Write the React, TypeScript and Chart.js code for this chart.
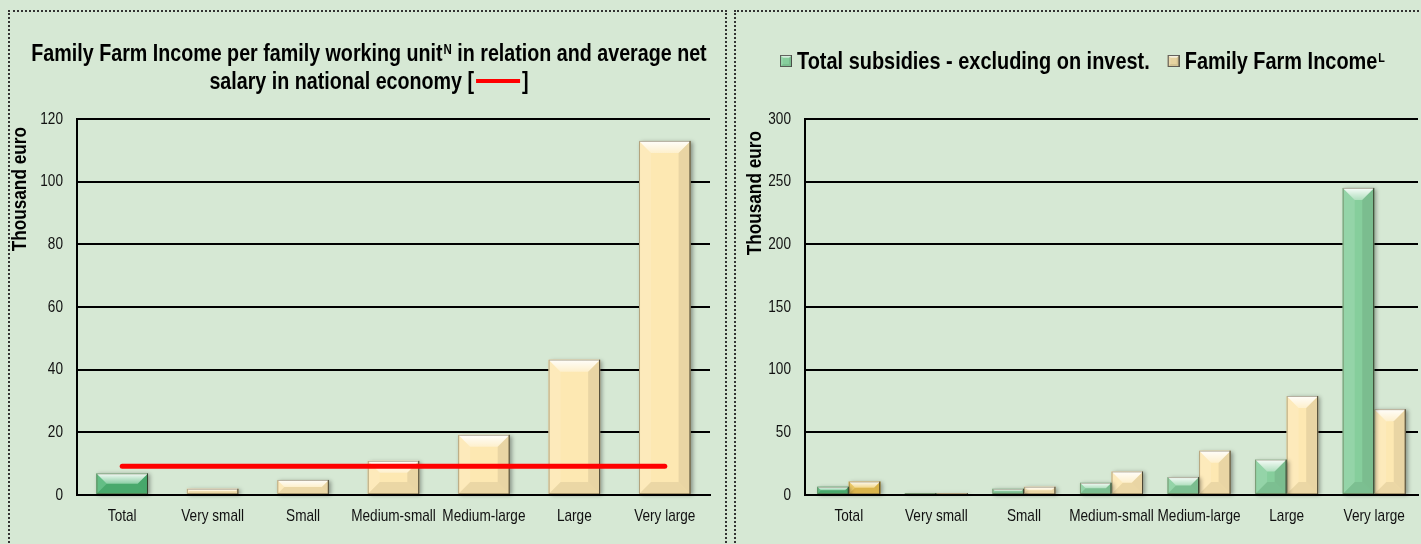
import React, { useEffect, useRef } from "react";
import { Chart, registerables } from "chart.js";

Chart.register(...registerables);

// ---------------- data ----------------
const categories = ["Total", "Very small", "Small", "Medium-small", "Medium-large", "Large", "Very large"];
const ffiPerFwu = [6.9, 2.0, 4.8, 10.9, 19.2, 43.2, 113.0];
const avgNetSalary = [9.2, 9.2, 9.2, 9.2, 9.2, 9.2, 9.2];
const totalSubsidies = [6.6, 1.6, 5.0, 9.8, 14.3, 28.3, 245];
const familyFarmIncome = [10.8, 1.5, 6.6, 18.8, 35.4, 79, 68.5];
const leftYTicks = [0, 20, 40, 60, 80, 100, 120];
const rightYTicks = [0, 50, 100, 150, 200, 250, 300];
const legendLabels = ["Total subsidies - excluding on invest.", "Family Farm Income"];
const legendSup = ["", "L"];
const axisTitle = "Thousand euro";

// ---------------- styles ----------------
const FONT = "'Liberation Sans', Arial, sans-serif";
const BG = "#d6e8d4";
const BEIGE = "#fde8b2";
const LIGHT_GREEN = "#86ce9c";
const TOTAL_GREEN = "#4eb675";
const TOTAL_GOLD = "#ebc352";

function textW(ctx: CanvasRenderingContext2D, t: string, sx: number) {
  return ctx.measureText(t).width * sx;
}

function drawText(
  ctx: CanvasRenderingContext2D,
  t: string,
  x: number,
  y: number,
  align: CanvasTextAlign,
  baseline: CanvasTextBaseline,
  sx: number
) {
  ctx.save();
  ctx.translate(x, y);
  ctx.scale(sx, 1);
  ctx.textAlign = align;
  ctx.textBaseline = baseline;
  ctx.fillText(t, 0, 0);
  ctx.restore();
}

function drawBevelRect(ctx: CanvasRenderingContext2D, l: number, t: number, r: number, b: number) {
  const w = r - l;
  const h = b - t;
  if (w <= 0 || h <= 0) return;
  const s = Math.max(0, Math.min(12, h / 2, w / 2 - 3));
  ctx.save();
  const g = ctx.createLinearGradient(0, t, 0, t + s);
  g.addColorStop(0, "rgba(255,255,255,0.95)");
  g.addColorStop(1, "rgba(255,255,255,0.35)");
  ctx.fillStyle = g;
  ctx.beginPath();
  ctx.moveTo(l, t);
  ctx.lineTo(r, t);
  ctx.lineTo(r - s, t + s);
  ctx.lineTo(l + s, t + s);
  ctx.closePath();
  ctx.fill();
  ctx.fillStyle = "rgba(255,255,255,0.12)";
  ctx.beginPath();
  ctx.moveTo(l, t);
  ctx.lineTo(l + s, t + s);
  ctx.lineTo(l + s, b - s);
  ctx.lineTo(l, b);
  ctx.closePath();
  ctx.fill();
  ctx.fillStyle = "rgba(0,0,0,0.08)";
  ctx.beginPath();
  ctx.moveTo(r, t);
  ctx.lineTo(r - s, t + s);
  ctx.lineTo(r - s, b - s);
  ctx.lineTo(r, b);
  ctx.closePath();
  ctx.fill();
  ctx.fillStyle = "rgba(0,0,0,0.07)";
  ctx.beginPath();
  ctx.moveTo(l, b);
  ctx.lineTo(l + s, b - s);
  ctx.lineTo(r - s, b - s);
  ctx.lineTo(r, b);
  ctx.closePath();
  ctx.fill();
  ctx.strokeStyle = "rgba(90,80,50,0.45)";
  ctx.lineWidth = 1;
  ctx.strokeRect(l + 0.5, t + 0.5, w - 1, h - 1);
  ctx.strokeStyle = "rgba(40,40,30,0.75)";
  ctx.beginPath();
  ctx.moveTo(r - 0.5, t);
  ctx.lineTo(r - 0.5, b);
  ctx.stroke();
  ctx.restore();
}

const bevelPlugin = {
  id: "bevel",
  beforeDatasetDraw(chart: any, args: any) {
    const meta = args.meta;
    if (meta.type !== "bar") return;
    const ctx = chart.ctx as CanvasRenderingContext2D;
    ctx.save();
    meta.data.forEach((el: any) => {
      const { x, y, base, width } = el.getProps(["x", "y", "base", "width"], true);
      ctx.shadowColor = "rgba(0,0,0,0.35)";
      ctx.shadowBlur = 4;
      ctx.shadowOffsetX = 2;
      ctx.shadowOffsetY = 1;
      ctx.fillStyle = el.options.backgroundColor;
      ctx.fillRect(x - width / 2, y, width, base - y);
    });
    ctx.restore();
  },
  afterDatasetDraw(chart: any, args: any) {
    const meta = args.meta;
    if (meta.type !== "bar") return;
    const ctx = chart.ctx as CanvasRenderingContext2D;
    meta.data.forEach((el: any) => {
      const { x, y, base, width } = el.getProps(["x", "y", "base", "width"], true);
      drawBevelRect(ctx, x - width / 2, y, x + width / 2, base);
    });
  },
};

// tick labels and axis title, drawn condensed from the chart's own scales
const axisTextPlugin = {
  id: "axisText",
  afterDraw(chart: any, _args: any, opts: any) {
    const ctx = chart.ctx as CanvasRenderingContext2D;
    const xs = chart.scales.x;
    const ys = chart.scales.y;
    const sx = 0.8;
    ctx.save();
    ctx.fillStyle = "#111";
    ctx.font = `17px ${FONT}`;
    ys.ticks.forEach((t: any) => {
      drawText(ctx, String(t.value), ys.right - 14, ys.getPixelForValue(t.value), "right", "middle", sx);
    });
    xs.ticks.forEach((t: any, i: number) => {
      drawText(ctx, String(xs.getLabelForValue(t.value)), xs.getPixelForTick(i), xs.top + 21, "center", "middle", sx);
    });
    ctx.fillStyle = "#000";
    ctx.font = `bold 21px ${FONT}`;
    ctx.save();
    ctx.translate(opts.titleX, chart.chartArea.top + opts.titleOffset);
    ctx.rotate(-Math.PI / 2);
    ctx.scale(0.82, 1);
    ctx.textAlign = "right";
    ctx.textBaseline = "middle";
    ctx.fillText(axisTitle, 0, 0);
    ctx.restore();
    ctx.restore();
  },
};

const titlePlugin = {
  id: "ffiTitle",
  afterDraw(chart: any) {
    const ctx = chart.ctx as CanvasRenderingContext2D;
    const sx = 0.82;
    const font = `bold 24px ${FONT}`;
    const supFont = `bold 14px ${FONT}`;
    const cx = 359;
    ctx.save();
    ctx.fillStyle = "#000";
    const a = "Family Farm Income per family working unit";
    const sup = "N";
    const c = " in relation and average net";
    ctx.font = font;
    const wa = textW(ctx, a, sx);
    const wc = textW(ctx, c, sx);
    ctx.font = supFont;
    const ws = textW(ctx, sup, sx);
    let x = cx - (wa + ws + 1 + wc) / 2;
    const y1 = 49;
    ctx.font = font;
    drawText(ctx, a, x, y1, "left", "alphabetic", sx);
    x += wa;
    ctx.font = supFont;
    drawText(ctx, sup, x + 1, y1 - 7, "left", "alphabetic", sx);
    x += ws + 1;
    ctx.font = font;
    drawText(ctx, c, x, y1, "left", "alphabetic", sx);
    const d = "salary in national economy [";
    const e = "]";
    const redW = 44;
    const wd = textW(ctx, d, sx);
    const we = textW(ctx, e, sx);
    const y2 = 77;
    x = cx - (wd + redW + we + 4) / 2;
    drawText(ctx, d, x, y2, "left", "alphabetic", sx);
    x += wd + 2;
    ctx.fillStyle = "#ff0000";
    ctx.fillRect(x, y2 - 10, redW, 4);
    x += redW + 2;
    ctx.fillStyle = "#000";
    drawText(ctx, e, x, y2, "left", "alphabetic", sx);
    ctx.restore();
  },
};

function drawMarker(ctx: CanvasRenderingContext2D, l: number, t: number, s: number, color: string) {
  ctx.save();
  ctx.fillStyle = color;
  ctx.fillRect(l, t, s, s);
  ctx.restore();
  drawBevelRect(ctx, l, t, l + s, t + s);
  ctx.save();
  ctx.strokeStyle = "rgba(80,80,80,0.8)";
  ctx.lineWidth = 1;
  ctx.strokeRect(l + 0.5, t + 0.5, s - 1, s - 1);
  ctx.restore();
}

const legendPlugin = {
  id: "customLegend",
  afterDraw(chart: any) {
    const ctx = chart.ctx as CanvasRenderingContext2D;
    const sx = 0.83;
    const font = `bold 24px ${FONT}`;
    const supFont = `bold 13px ${FONT}`;
    const colors = [LIGHT_GREEN, "#e6d3a0"];
    const box = 12;
    const gapBoxText = 5;
    const gapItems = 18;
    ctx.save();
    let x = 43;
    const baseline = 57;
    legendLabels.forEach((t, i) => {
      if (i > 0) x += gapItems;
      drawMarker(ctx, x, baseline - 14, box, colors[i]);
      x += box + gapBoxText;
      ctx.font = font;
      ctx.fillStyle = "#000";
      drawText(ctx, t, x, baseline, "left", "alphabetic", sx);
      x += textW(ctx, t, sx);
      if (legendSup[i]) {
        ctx.font = supFont;
        drawText(ctx, legendSup[i], x + 1, baseline - 7, "left", "alphabetic", sx);
        x += textW(ctx, legendSup[i], sx) + 1;
      }
    });
    ctx.restore();
  },
};

function yScale(max: number, ticks: number[], width: number) {
  return {
    min: 0,
    max,
    afterBuildTicks: (s: any) => {
      s.ticks = ticks.map((v) => ({ value: v }));
    },
    afterFit: (s: any) => {
      s.width = width;
    },
    grid: { color: "#000", lineWidth: 2, drawTicks: false },
    border: { display: true, color: "#000", width: 2 },
    ticks: { display: false },
    title: { display: false },
  };
}

function xScale() {
  return {
    grid: { display: false, drawTicks: false },
    border: { display: true, color: "#000", width: 2 },
    ticks: { display: false, autoSkip: false },
    afterFit: (s: any) => {
      s.height = 49;
    },
  };
}

export default function App() {
  const leftRef = useRef<HTMLCanvasElement>(null);
  const rightRef = useRef<HTMLCanvasElement>(null);

  useEffect(() => {
    const left = new Chart(leftRef.current as HTMLCanvasElement, {
      type: "bar",
      data: {
        labels: categories,
        datasets: [
          {
            type: "line" as const,
            label: "Average net salary in national economy",
            data: avgNetSalary,
            borderColor: "#ff0000",
            borderWidth: 5,
            borderCapStyle: "round",
            pointRadius: 0,
            order: 0,
          } as any,
          {
            type: "bar" as const,
            label: "Family Farm Income per FWU",
            data: ffiPerFwu,
            backgroundColor: categories.map((_, i) => (i === 0 ? TOTAL_GREEN : BEIGE)),
            borderWidth: 0,
            barPercentage: 0.57,
            categoryPercentage: 1,
            order: 1,
          },
        ],
      },
      options: {
        animation: false,
        responsive: false,
        devicePixelRatio: 1,
        layout: { padding: { top: 107, right: 14, left: 0, bottom: 0 } },
        plugins: {
          legend: { display: false },
          tooltip: { enabled: false },
          title: { display: false },
          axisText: { titleX: 10, titleOffset: 8 },
        } as any,
        scales: { x: xScale(), y: yScale(120, leftYTicks, 67) } as any,
      },
      plugins: [bevelPlugin, titlePlugin, axisTextPlugin],
    });

    const right = new Chart(rightRef.current as HTMLCanvasElement, {
      type: "bar",
      data: {
        labels: categories,
        datasets: [
          {
            label: legendLabels[0],
            data: totalSubsidies,
            backgroundColor: categories.map((_, i) => (i === 0 ? TOTAL_GREEN : LIGHT_GREEN)),
            borderWidth: 0,
            barPercentage: 1,
            categoryPercentage: 0.72,
          },
          {
            label: legendLabels[1],
            data: familyFarmIncome,
            backgroundColor: categories.map((_, i) => (i === 0 ? TOTAL_GOLD : BEIGE)),
            borderWidth: 0,
            barPercentage: 1,
            categoryPercentage: 0.72,
          },
        ],
      },
      options: {
        animation: false,
        responsive: false,
        devicePixelRatio: 1,
        layout: { padding: { top: 107, right: 3, left: 0, bottom: 0 } },
        plugins: {
          legend: { display: false },
          tooltip: { enabled: false },
          title: { display: false },
          axisText: { titleX: 18, titleOffset: 12 },
        } as any,
        scales: { x: xScale(), y: yScale(300, rightYTicks, 68) } as any,
      },
      plugins: [bevelPlugin, legendPlugin, axisTextPlugin],
    });

    return () => {
      left.destroy();
      right.destroy();
    };
  }, []);

  return (
    <div
      style={{
        position: "absolute",
        left: 0,
        top: 0,
        width: 1421,
        height: 544,
        background: BG,
        overflow: "hidden",
      }}
    >
      <div
        style={{
          position: "absolute",
          left: 8,
          top: 10,
          width: 719,
          height: 560,
          border: "2px dotted #333",
          boxSizing: "border-box",
        }}
      />
      <div
        style={{
          position: "absolute",
          left: 734,
          top: 10,
          width: 720,
          height: 560,
          border: "2px dotted #333",
          boxSizing: "border-box",
        }}
      />
      <canvas
        ref={leftRef}
        width={714}
        height={532}
        style={{ position: "absolute", left: 10, top: 12, width: 714, height: 532 }}
      />
      <canvas
        ref={rightRef}
        width={684}
        height={532}
        style={{ position: "absolute", left: 737, top: 12, width: 684, height: 532 }}
      />
    </div>
  );
}
